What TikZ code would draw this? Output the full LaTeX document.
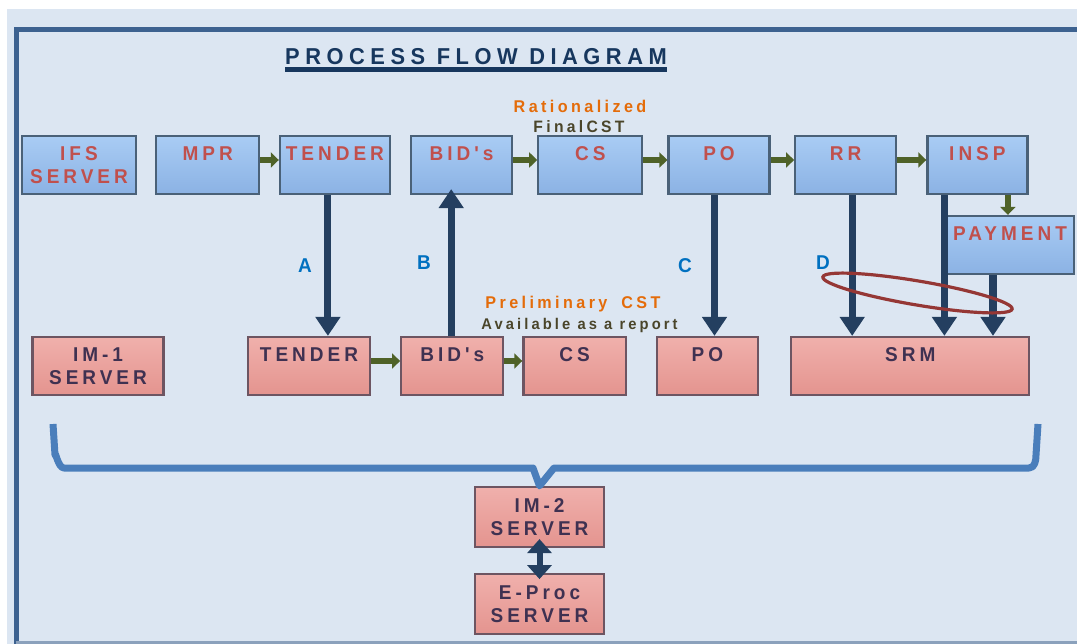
\documentclass[tikz,border=0pt]{standalone}
\usepackage{fontspec}
\usepackage{tikz}
\usetikzlibrary{positioning, arrows.meta}
\newfontfamily\flowfont[FakeStretch=0.95, LetterSpace=20]{Liberation Sans}
\newfontfamily\titlefont[FakeStretch=0.95, LetterSpace=24]{Liberation Sans}

\definecolor{bgblue}{HTML}{DCE6F2}
\definecolor{framecol}{HTML}{3D6290}
\definecolor{titlecol}{HTML}{17375E}
\definecolor{redtext}{HTML}{C0504D}
\definecolor{purpletext}{HTML}{3F3151}
\definecolor{labelblue}{HTML}{0070C0}
\definecolor{orangetext}{HTML}{E46C0A}
\definecolor{olivetext}{HTML}{4A452A}
\definecolor{greenarrow}{HTML}{4F6228}
\definecolor{navyarrow}{HTML}{243F60}
\definecolor{bracecol}{HTML}{4A7EBB}
\definecolor{markred}{HTML}{953735}
\definecolor{ifstop}{HTML}{A9CCF4}
\definecolor{ifsbot}{HTML}{8BB2E4}
\definecolor{ifsline}{HTML}{4A6178}
\definecolor{imtop}{HTML}{F0B0AC}
\definecolor{imbot}{HTML}{E4948F}
\definecolor{imline}{HTML}{6D5562}

\tikzset{
  ifsbox/.style={draw=ifsline, line width=2.2pt, top color=ifstop, bottom color=ifsbot,
    minimum height=58pt, inner sep=0pt, align=center, text=redtext,
    font=\flowfont\bfseries\fontsize{20}{23}\selectfont},
  imbox/.style={draw=imline, line width=2.2pt, top color=imtop, bottom color=imbot,
    minimum height=58pt, inner sep=0pt, align=center, text=purpletext,
    font=\flowfont\bfseries\fontsize{20}{23}\selectfont},
  flow/.style={line width=6pt, draw=greenarrow, -{Triangle[length=8pt,width=15pt]}},
  link/.style={line width=7pt, draw=navyarrow, -{Triangle[length=19pt,width=24pt]}},
  letter/.style={anchor=base, text=labelblue, font=\flowfont\bfseries\fontsize{20}{23}\selectfont},
  note/.style={anchor=base, font=\flowfont\bfseries\fontsize{16}{18}\selectfont},
}
\newcommand{\oneline}[1]{#1\\\mbox{}}

\begin{document}
\begin{tikzpicture}[x=1pt, y=-1pt]
  \useasboundingbox (0,0) rectangle (1077,644);
  % background and frame
  \fill[bgblue] (7,9) rectangle (1077,644);
  \draw[framecol, line width=5pt] (16,644) -- (16,29.5) -- (1077,29.5);
  \draw[framecol!60!white, line width=2.5pt] (16,642.5) -- (1077,642.5);

  % title
  \node[anchor=base, inner xsep=0pt, inner ysep=2pt, text=titlecol,
    font=\titlefont\bfseries\fontsize{23}{26}\selectfont] (title) at (476,65) {PROCESS FLOW DIAGRAM};
  \draw[titlecol, line width=4.5pt] ([yshift=-2pt]title.south west) -- ([yshift=-2pt]title.south east);

  % IFS row
  \node[ifsbox, minimum width=114pt] (ifs) at (79,165) {IFS\\SERVER};
  \node[ifsbox, minimum width=103pt, right=18pt of ifs] (mpr) {\oneline{MPR}};
  \node[ifsbox, minimum width=110pt, right=18.5pt of mpr] (ttender) {\oneline{TENDER}};
  \node[ifsbox, minimum width=101pt, right=19pt of ttender] (tbid) {\oneline{BID's}};
  \node[ifsbox, minimum width=104pt, right=24pt of tbid] (tcs) {\oneline{CS}};
  \node[ifsbox, minimum width=101pt, right=24pt of tcs] (tpo) {\oneline{PO}};
  \node[ifsbox, minimum width=101pt, right=23.5pt of tpo] (rr) {\oneline{RR}};
  \node[ifsbox, minimum width=100pt, right=29pt of rr] (insp) {\oneline{INSP}};
  \node[ifsbox, minimum width=128pt] (pay) at (1010,245) {\oneline{PAYMENT}};

  % IM row
  \node[imbox, minimum width=131pt] (im1) at (98,366) {IM-1\\SERVER};
  \node[imbox, minimum width=122pt] (btender) at (309,366) {\oneline{TENDER}};
  \node[imbox, minimum width=102pt, right=29pt of btender] (bbid) {\oneline{BID's}};
  \node[imbox, minimum width=102.5pt, right=18pt of bbid] (bcs) {\oneline{CS}};
  \node[imbox, minimum width=101.5pt, right=28.5pt of bcs] (bpo) {\oneline{PO}};
  \node[imbox, minimum width=238pt, right=31pt of bpo] (srm) {\oneline{SRM}};
  \node[imbox, minimum width=129pt, minimum height=60pt] (im2) at (539.5,517) {IM-2\\SERVER};
  \node[imbox, minimum width=129pt, minimum height=60pt, below=25pt of im2] (eproc) {E-Proc\\SERVER};

  % notes
  \node[note, text=orangetext, font=\flowfont\bfseries\fontsize{17}{19}\selectfont] (rat) at (580,112.7) {Rationalized};
  \node[note, text=olivetext, font=\flowfont\bfseries\fontsize{16.5}{18}\selectfont] (fcst) at (579,132.7) {FinalCST};
  \node[note, text=orangetext, font=\flowfont\bfseries\fontsize{17}{19}\selectfont] (pre) at (573,309) {Preliminary\hspace{14pt}CST};
  \node[note, text=olivetext, font=\flowfont\bfseries\fontsize{15.5}{18}\selectfont] (avail) at (579.5,330) {Available as a report};

  % green flow arrows
  \draw[flow] ([yshift=5pt]mpr.east) -- ([yshift=5pt]ttender.west);
  \draw[flow] ([yshift=5pt]tbid.east) -- ([yshift=5pt]tcs.west);
  \draw[flow] ([yshift=5pt]tcs.east) -- ([yshift=5pt]tpo.west);
  \draw[flow] ([yshift=5pt]tpo.east) -- ([yshift=5pt]rr.west);
  \draw[flow] ([yshift=5pt]rr.east) -- ([yshift=5pt]insp.west);
  \draw[flow] ([xshift=30.5pt]insp.south) -- ([xshift=30.5pt]insp.south |- pay.north);
  \draw[flow] ([yshift=5pt]btender.east) -- ([yshift=5pt]bbid.west);
  \draw[flow] ([yshift=5pt]bbid.east) -- ([yshift=5pt]bcs.west);

  % links between rows
  \draw[link] ([xshift=-7pt]ttender.south) -- ([xshift=-7pt]ttender.south |- btender.north);
  \draw[link, shorten >=-6pt] ([xshift=-1pt]bbid.north) -- ([xshift=-1pt]bbid.north |- tbid.south);
  \draw[link] ([xshift=-4.5pt]tpo.south) -- ([xshift=-4.5pt]tpo.south |- bpo.north);
  \draw[link] ([xshift=6.5pt]rr.south) -- ([xshift=6.5pt]rr.south |- srm.north);
  \draw[link] ([xshift=-33pt]insp.south) -- ([xshift=-33pt]insp.south |- srm.north);
  \draw[link, line width=8.5pt] ([xshift=-17pt]pay.south) -- ([xshift=-17pt]pay.south |- srm.north);
  \node[letter] (la) at (305,272.3) {A};
  \node[letter] (lb) at (424,270) {B};
  \node[letter] (lc) at (685,272.7) {C};
  \node[letter] (ld) at (823,270) {D};

  % hand drawn mark
  \draw[markred, line width=3.2pt, rotate around={-9.6:(917.5,293)}] (917.5,293) ellipse [x radius=96, y radius=12];

  % brace to IM-2
  \draw[bracecol, line width=7pt, line join=round] (53,424) -- (55,455) to[out=90,in=180] (64,468)
    -- (533,468) -- (im2.north) -- (554,468) -- (1029,468) to[out=0,in=-90] (1036,455) -- (1038,424);
  \draw[navyarrow, line width=6pt, {Triangle[length=14pt,width=24pt]}-{Triangle[length=14pt,width=24pt]},
    shorten <=-9pt, shorten >=-6pt] (im2.south) -- (eproc.north);
\end{tikzpicture}
\end{document}
